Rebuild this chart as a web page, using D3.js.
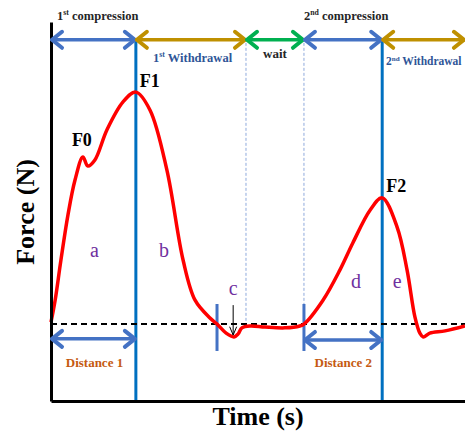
<!DOCTYPE html>
<html>
<head>
<meta charset="utf-8">
<script src="https://cdn.jsdelivr.net/npm/d3@7"></script>
<style>
  body { margin: 0; background: #fff; }
  svg { display: block; }
  text { font-family: "Liberation Serif", "Times New Roman", serif; }
</style>
</head>
<body>
<div id="chart"></div>
<script>
// force curve (arbitrary units, time 0..100, force 0..100)
var timeVals  = [0, 1.0, 2.4, 4.1, 5.8, 7.7, 8.9, 10.6, 13.5, 17.4, 20.5, 23.9, 28.0, 31.9, 34.8, 38.4, 40.1, 42.3, 44.2, 45.2, 46.1, 48.1, 51.7, 56.5, 60.1, 61.1, 65.7, 69.8, 72.9, 77.1, 80.0, 83.6, 86.0, 87.9, 89.1, 89.9, 91.5, 95.2, 100];
var forceVals = [20.8, 26.6, 37.2, 49.1, 58.3, 64.4, 62.0, 63.6, 71.5, 78.9, 81.5, 76.8, 60.9, 37.2, 26.6, 21.9, 20.3, 17.9, 16.9, 17.7, 19.3, 19.8, 19.5, 19.3, 19.8, 20.3, 26.6, 34.6, 41.7, 50.4, 53.6, 45.9, 34.6, 22.2, 17.9, 16.9, 17.9, 18.5, 19.8];

var baseline = 20.3;

// phases along the top
var phaseBounds = [0, 20.5, 47.1, 61.1, 80.0, 100];
var phaseColors = ["#4472C4", "#BF9000", "#00B050", "#4472C4", "#BF9000"];

// peaks
var peakNames = ["F0", "F1", "F2"];
var peakTime  = [7.7, 20.5, 80.0];
var peakForce = [64.4, 81.5, 53.6];

// region letters
var regionNames = ["a", "b", "c", "d", "e"];
var regionTime  = [10.5, 27.3, 44.0, 73.7, 83.6];
var regionForce = [38.0, 38.0, 28.0, 29.8, 29.8];

var w = 465, h = 431;

var x = d3.scaleLinear().domain([0, 100]).range([51, 465]);
var y = d3.scaleLinear().domain([0, 100]).range([401, 22]);

var svg = d3.select("#chart")
    .append("svg")
    .attr("width", w)
    .attr("height", h);

// double headed arrow with open chevron heads
function dblArrow(x1, x2, yy, color) {
    var g = svg.append("g")
        .attr("stroke", color)
        .attr("fill", "none")
        .attr("stroke-linecap", "round")
        .attr("stroke-linejoin", "round");
    g.append("line")
        .attr("x1", x1 + 1).attr("x2", x2 - 1)
        .attr("y1", yy).attr("y2", yy)
        .attr("stroke-width", 3.5);
    g.append("polyline")
        .attr("points", [[x1 + 11, yy - 8], [x1 + 1, yy], [x1 + 11, yy + 8]].join(" "))
        .attr("stroke-width", 4);
    g.append("polyline")
        .attr("points", [[x2 - 11, yy - 8], [x2 - 1, yy], [x2 - 11, yy + 8]].join(" "))
        .attr("stroke-width", 4);
}

// thin dashed guides
[47.1, 61.1].forEach(function(t, i) {
    svg.append("line")
        .attr("x1", x(t)).attr("x2", x(t))
        .attr("y1", y(94.5))
        .attr("y2", i == 0 ? y(20.3) : y(25.6))
        .attr("stroke", "#8FAADC")
        .attr("stroke-width", 1)
        .attr("stroke-dasharray", "3,2");
});

// thick vertical lines at F1 / F2
[20.5, 80.0].forEach(function(t) {
    svg.append("line")
        .attr("x1", x(t)).attr("x2", x(t))
        .attr("y1", y(95.3)).attr("y2", y(0))
        .attr("stroke", "#0070C0")
        .attr("stroke-width", 3);
});

// baseline
svg.append("line")
    .attr("x1", x(0)).attr("x2", x(100))
    .attr("y1", y(baseline)).attr("y2", y(baseline))
    .attr("stroke", "#000")
    .attr("stroke-width", 2)
    .attr("stroke-dasharray", "6,4");

// short markers at c and start of 2nd compression
[40.1, 61.1].forEach(function(t) {
    svg.append("line")
        .attr("x1", x(t)).attr("x2", x(t))
        .attr("y1", y(25.6)).attr("y2", y(13.2))
        .attr("stroke", "#4472C4")
        .attr("stroke-width", 3);
});

// the force curve
var line = d3.line()
    .x(function(d) { return x(d[0]); })
    .y(function(d) { return y(d[1]); })
    .curve(d3.curveCatmullRom.alpha(0.5));

svg.append("path")
    .datum(d3.zip(timeVals, forceVals))
    .attr("d", line)
    .attr("fill", "none")
    .attr("stroke", "#FF0000")
    .attr("stroke-width", 3.5)
    .attr("stroke-linejoin", "round");

// axes without ticks
svg.append("g")
    .attr("transform", "translate(0," + y(0) + ")")
    .call(d3.axisBottom(x).tickValues([]).tickSizeOuter(0))
    .select(".domain")
    .attr("stroke", "#000")
    .attr("stroke-width", 3);

svg.append("g")
    .attr("transform", "translate(" + x(0) + ",0)")
    .call(d3.axisLeft(y).tickValues([]).tickSizeOuter(0))
    .select(".domain")
    .attr("stroke", "#000")
    .attr("stroke-width", 3);

// phase arrows at the top
for (var i = 0; i < phaseColors.length; i++) {
    dblArrow(x(phaseBounds[i]), x(phaseBounds[i + 1]), y(95.3), phaseColors[i]);
}

// distance arrows
dblArrow(x(0), x(20.5), y(16.4), "#4472C4");
dblArrow(x(61.1), x(80.0), y(16.1), "#4472C4");

// little arrow pointing at c
svg.append("line")
    .attr("x1", x(44.0)).attr("x2", x(44.0))
    .attr("y1", y(25.3)).attr("y2", y(17.4))
    .attr("stroke", "#000").attr("stroke-width", 1);
svg.append("polyline")
    .attr("points", [[x(44.0) - 3.5, y(19.6)], [x(44.0), y(17.4)], [x(44.0) + 3.5, y(19.6)]].join(" "))
    .attr("fill", "none").attr("stroke", "#000").attr("stroke-width", 1);

// phase labels
function supLabel(tx, ty, num, sup, rest, color, size) {
    var t = svg.append("text")
        .attr("x", tx).attr("y", ty)
        .attr("font-weight", "bold")
        .attr("font-size", size + "px")
        .attr("fill", color);
    t.append("tspan").text(num);
    t.append("tspan").attr("font-size", (size * 0.62) + "px").attr("dy", -size * 0.38).text(sup);
    t.append("tspan").attr("dy", size * 0.38).text(rest);
}

supLabel(57, 20, "1", "st", " compression", "#262626", 12.5);
supLabel(153, 62, "1", "st", " Withdrawal", "#2F5597", 12.5);
supLabel(304, 20, "2", "nd", " compression", "#262626", 12.5);
supLabel(386, 65, "2", "nd", " Withdrawal", "#2F5597", 11.5);

svg.append("text")
    .attr("x", 275).attr("y", 58)
    .attr("text-anchor", "middle")
    .attr("font-weight", "bold")
    .attr("font-size", "13px")
    .attr("fill", "#262626")
    .text("wait");

// distance labels
svg.append("text")
    .attr("x", x(10.5)).attr("y", 367)
    .attr("text-anchor", "middle")
    .attr("font-weight", "bold")
    .attr("font-size", "13px")
    .attr("fill", "#C55A11")
    .text("Distance 1");

svg.append("text")
    .attr("x", x(70.6)).attr("y", 367)
    .attr("text-anchor", "middle")
    .attr("font-weight", "bold")
    .attr("font-size", "13px")
    .attr("fill", "#C55A11")
    .text("Distance 2");

// peak labels
var peakDx = [-11, 4, 4];
var peakDy = [-11, -5, -6];
peakNames.forEach(function(n, i) {
    svg.append("text")
        .attr("x", x(peakTime[i]) + peakDx[i])
        .attr("y", y(peakForce[i]) + peakDy[i])
        .attr("font-weight", "bold")
        .attr("font-size", "18px")
        .attr("fill", "#000")
        .text(n);
});

// region letters
regionNames.forEach(function(n, i) {
    svg.append("text")
        .attr("x", x(regionTime[i]))
        .attr("y", y(regionForce[i]))
        .attr("text-anchor", "middle")
        .attr("font-size", "20px")
        .attr("fill", "#7030A0")
        .text(n);
});

// axis titles
svg.append("text")
    .attr("x", 258).attr("y", 425)
    .attr("text-anchor", "middle")
    .attr("font-weight", "bold")
    .attr("font-size", "26px")
    .attr("fill", "#000")
    .text("Time (s)");

svg.append("text")
    .attr("transform", "translate(34,212) rotate(-90)")
    .attr("text-anchor", "middle")
    .attr("font-weight", "bold")
    .attr("font-size", "26px")
    .attr("fill", "#000")
    .text("Force (N)");
</script>
</body>
</html>
